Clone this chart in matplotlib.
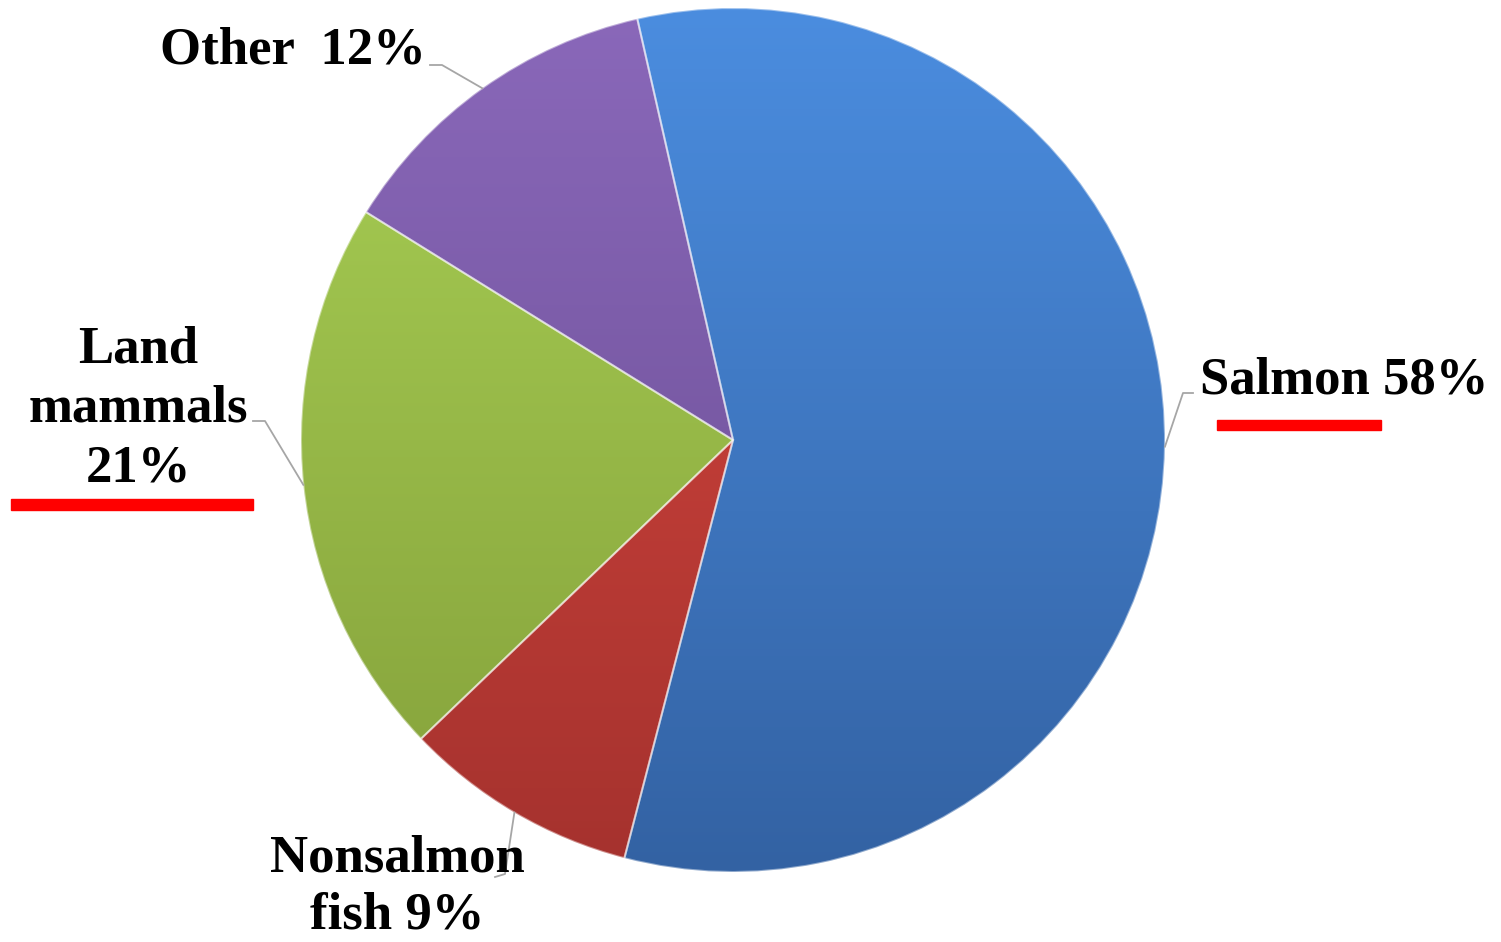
import numpy as np
import matplotlib.pyplot as plt
from matplotlib.patches import Rectangle
from matplotlib.colors import LinearSegmentedColormap

# ===================== 数据 =====================
labels = ['Salmon 58%', 'Nonsalmon\nfish 9%', 'Land\nmammals\n21%', 'Other  12%']
shares = [57.6, 8.8, 21.0, 12.6]   # 从图中扇形角度读出
top_colors = ['#4b8ddf', '#d9473f', '#a9d055', '#8a68ba']
bottom_colors = ['#3362a3', '#a5322e', '#84a03a', '#674b8f']

W, H = 1501, 942
CX, CY, R = 733, H - 440, 432   # 饼图中心和半径（像素坐标）

fig = plt.figure(figsize=(W / 100, H / 100), dpi=100)
ax = fig.add_axes([0, 0, 1, 1])

wedges, _ = ax.pie(shares, colors=top_colors, startangle=102.8, counterclock=False,
                   center=(CX, CY), radius=R,
                   wedgeprops=dict(edgecolor=(1, 1, 1, 0.45), linewidth=1.5))

# 每个扇形做竖直渐变填充
grad = np.linspace(0, 1, 256).reshape(-1, 1)
for w, c0, c1 in zip(wedges, top_colors, bottom_colors):
    cmap = LinearSegmentedColormap.from_list('g', [c1, c0])
    im = ax.imshow(grad, cmap=cmap, origin='lower', aspect='auto',
                   extent=(CX - R, CX + R, CY - R, CY + R), zorder=1.5)
    im.set_clip_path(w)
    w.set_facecolor('none')
    w.set_zorder(2)

ax.set_xlim(0, W)
ax.set_ylim(0, H)
ax.set_aspect('equal')
ax.axis('off')

# 标签位置（像素坐标, 上方为0）
label_pos = [(1200, 380, 'left'), (397, 887, 'center'), (138, 409, 'center'), (160, 50, 'left')]
spacing = [1.32, 1.26, 1.32, 1.32]
elbows = [((1183, 393), (1193, 393)), ((505, 874), (495, 877)),
          ((265, 421), (253, 421)), ((442, 65), (430, 65))]

font = dict(family='Liberation Serif', weight='bold', size=38)
for w, lab, (x, y, ha), ls, (e1, e2) in zip(wedges, labels, label_pos, spacing, elbows):
    mid = np.deg2rad((w.theta1 + w.theta2) / 2)
    sx, sy = CX + R * np.cos(mid), CY + R * np.sin(mid)
    ax.plot([sx, e1[0], e2[0]], [sy, H - e1[1], H - e2[1]], color='#a6a6a6', lw=1.3, zorder=3)
    ax.text(x, H - y, lab, ha=ha, va='center', multialignment='center',
            linespacing=ls, zorder=4, **font)

# 红色下划线
ax.add_patch(Rectangle((1217, H - 430), 164, 10, color='#ff0000', zorder=4))
ax.add_patch(Rectangle((11, H - 510), 242, 11, color='#ff0000', zorder=4))

fig.savefig('out.png', dpi=100)
